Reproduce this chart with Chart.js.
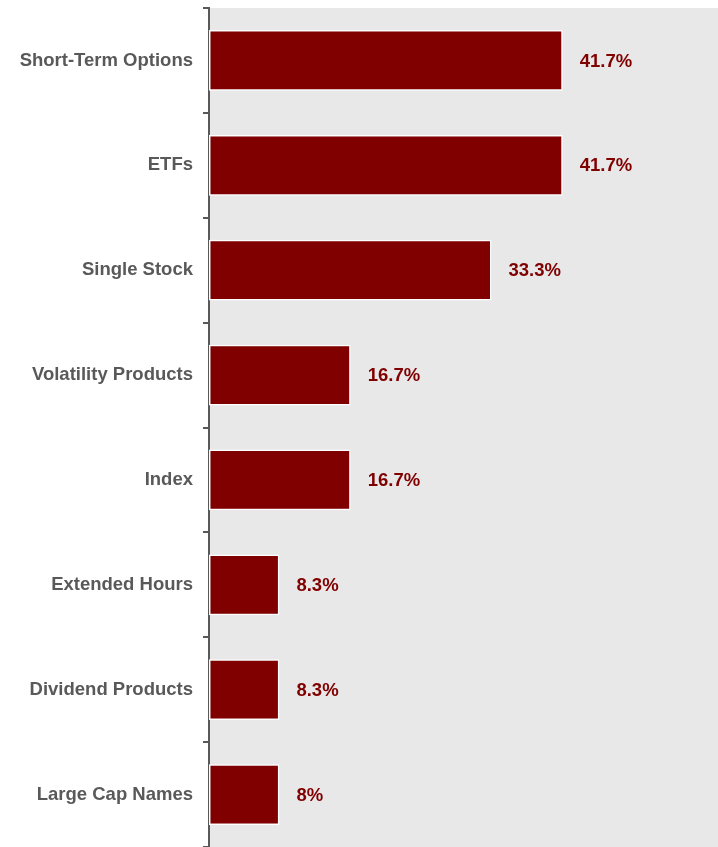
<!DOCTYPE html>
<html>
<head>
<meta charset="utf-8">
<script src="https://cdn.jsdelivr.net/npm/chart.js@4"></script>
<style>
  html, body { margin: 0; padding: 0; background: #fff; }
  #wrap { width: 718px; height: 847px; }
</style>
</head>
<body>
<div id="wrap"><canvas id="barChart"></canvas></div>
<script>
const categories = [
  "Short-Term Options",
  "ETFs",
  "Single Stock",
  "Volatility Products",
  "Index",
  "Extended Hours",
  "Dividend Products",
  "Large Cap Names"
];
const shares = [41.7, 41.7, 33.3, 16.7, 16.7, 8.3, 8.3, 8.3];
const shareLabels = ["41.7%", "41.7%", "33.3%", "16.7%", "16.7%", "8.3%", "8.3%", "8%"];

// gray plot area behind the bars
const plotBackground = {
  id: "plotBackground",
  beforeDraw(chart) {
    const { ctx, chartArea } = chart;
    ctx.save();
    ctx.fillStyle = "#e8e8e8";
    ctx.fillRect(chartArea.left, chartArea.top, chartArea.right - chartArea.left, chartArea.bottom - chartArea.top);
    ctx.restore();
  }
};

// value labels to the right of each bar
const valueLabels = {
  id: "valueLabels",
  afterDatasetsDraw(chart) {
    const { ctx } = chart;
    const meta = chart.getDatasetMeta(0);
    ctx.save();
    ctx.font = "bold 18.5px 'Liberation Sans', Arial, sans-serif";
    ctx.fillStyle = "#800000";
    ctx.textAlign = "left";
    ctx.textBaseline = "middle";
    meta.data.forEach((bar, i) => {
      ctx.fillText(shareLabels[i], bar.x + 17, bar.y + 1);
    });
    ctx.restore();
  }
};

const ctx = document.getElementById("barChart").getContext("2d");

new Chart(ctx, {
  type: "bar",
  data: {
    labels: categories,
    datasets: [
      {
        data: shares,
        backgroundColor: "#800000",
        borderColor: "#ffffff",
        borderWidth: 1.5,
        borderSkipped: false,
        barPercentage: 0.58,
        categoryPercentage: 1
      }
    ]
  },
  options: {
    indexAxis: "y",
    responsive: true,
    maintainAspectRatio: false,
    animation: false,
    layout: { padding: { top: 8, right: 0, bottom: 0, left: 0 } },
    plugins: {
      legend: { display: false },
      tooltip: { enabled: false }
    },
    scales: {
      x: {
        display: false,
        min: 0,
        max: 60
      },
      y: {
        afterFit(scale) {
          scale.width = 209;
          scale.paddingTop = 0;
          scale.paddingBottom = 0;
        },
        border: { display: true, color: "#595959", width: 2 },
        grid: {
          offset: true,
          drawOnChartArea: false,
          color: "#595959",
          lineWidth: 2,
          tickLength: 6
        },
        ticks: {
          color: "#595959",
          padding: 10,
          font: { family: "'Liberation Sans', Arial, sans-serif", size: 18.5, weight: "bold" }
        }
      }
    }
  },
  plugins: [plotBackground, valueLabels]
});
</script>
</body>
</html>
